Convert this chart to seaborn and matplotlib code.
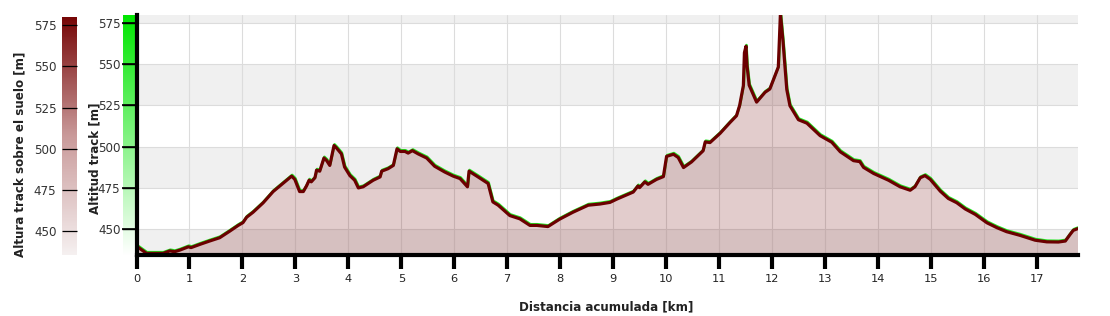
import numpy as np
import pandas as pd
import matplotlib
matplotlib.use("Agg")
import matplotlib.pyplot as plt
import matplotlib.transforms as mtransforms
from matplotlib.colors import LinearSegmentedColormap, Normalize
import seaborn as sns

# ---- data ----
distance_km = [0, 0.19, 0.5, 0.63, 0.72, 0.82, 0.98, 1.03, 1.2, 1.38,
               1.57, 1.76, 1.92, 2.01, 2.08, 2.2, 2.39, 2.58, 2.77, 2.93,
               2.99, 3.08, 3.15, 3.21, 3.26, 3.3, 3.37, 3.40, 3.46, 3.54,
               3.59, 3.65, 3.73, 3.78, 3.87, 3.93, 4.03, 4.12, 4.19, 4.28,
               4.47, 4.6, 4.63, 4.75, 4.85, 4.92, 4.98, 5.07, 5.13, 5.21,
               5.32, 5.48, 5.63, 5.82, 5.98, 6.11, 6.25, 6.28, 6.45, 6.64,
               6.73, 6.83, 6.89, 7.05, 7.24, 7.43, 7.56, 7.77, 7.99, 8.24,
               8.53, 8.75, 8.94, 9.07, 9.38, 9.47, 9.5, 9.6, 9.66, 9.82,
               9.95, 10.01, 10.14, 10.23, 10.33, 10.48, 10.70, 10.74, 10.83, 11.02,
               11.21, 11.33, 11.39, 11.46, 11.48, 11.51, 11.53, 11.57, 11.71, 11.87,
               11.96, 12.12, 12.16, 12.21, 12.28, 12.34, 12.5, 12.66, 12.91, 13.13,
               13.29, 13.54, 13.66, 13.73, 13.92, 14.2, 14.42, 14.61, 14.7, 14.8,
               14.89, 14.99, 15.18, 15.33, 15.49, 15.65, 15.84, 16.06, 16.25, 16.43,
               16.68, 16.97, 17.19, 17.41, 17.54, 17.63, 17.69, 17.77]
altitude_m = [439.4, 435, 435, 436.5, 436, 437, 439, 438.5, 440.5, 442.5,
              444.5, 448.5, 452, 453.7, 457, 460, 465.7, 472.6, 477.7, 482,
              480, 472.6, 472.6, 476, 479.5, 478.5, 481, 485.6, 485, 493,
              491.5, 488.5, 500.6, 499, 495.5, 487.5, 482.3, 479.5, 474.8, 475.5,
              479.5, 481.5, 485, 486.5, 488.5, 498.6, 497, 497, 496, 497.5,
              495.5, 493, 488, 484.5, 482, 480.5, 475.5, 485, 481.5, 477.5,
              466.3, 464.3, 462.6, 458, 456, 452, 452, 451.3, 455.8, 460,
              464.3, 465, 466, 468, 472.3, 476, 475, 478.5, 477, 480,
              481.7, 494, 495.3, 493.3, 487.2, 490.6, 497.4, 502.8, 502.4, 508,
              514.7, 518.7, 525, 537, 557, 561, 549, 537.3, 527, 533,
              535, 548.3, 581, 563.5, 534.7, 524.8, 516.3, 514.2, 506.6, 502.6,
              496.8, 491.4, 490.8, 487.3, 483.6, 479.5, 475.5, 473.4, 475.5, 481,
              482.3, 480, 472.8, 468.4, 465.8, 462, 458.7, 453.6, 450.6, 448.2,
              446, 443, 442, 441.9, 442.5, 446.5, 449, 450]
x_ticks = list(range(0, 18))
y_ticks = [450, 475, 500, 525, 550, 575]
y_range = [434, 580]
x_max = 17.77

df = pd.DataFrame({"km": distance_km, "alt": altitude_m})

# ---- figure ----
sns.set_theme(style="white")
plt.rcParams["font.family"] = ["DejaVu Sans"]
plt.rcParams["ytick.left"] = True
plt.rcParams["xtick.bottom"] = True
plt.rcParams["axes.axisbelow"] = False
W, H = 1110, 316
fig = plt.figure(figsize=(W / 100, H / 100), dpi=100)

def box(x0, y0, x1, y1):
    return [x0 / W, 1 - y1 / H, (x1 - x0) / W, (y1 - y0) / H]

ax = fig.add_axes(box(136.5, 15, 1077.5, 255), zorder=1)
ax.set_facecolor("white")

# green gradient strip left of the y axis
green = LinearSegmentedColormap.from_list("g", ["#ffffff", "#00e600"])
grad = np.linspace(0, 1, 256).reshape(-1, 1)
strip = ax.imshow(grad, cmap=green, aspect="auto", origin="lower",
                  extent=[-0.26, 0, y_range[0], y_range[1]], zorder=0.2)
strip.set_clip_on(False)
# tick marks across the strip
ax.hlines(y_ticks, -0.27, 0, colors="#000000", linewidths=1.2, zorder=5,
          clip_on=False)

# alternating background bands
edges = [y_range[0]] + y_ticks + [y_range[1]]
for i in range(len(edges) - 1):
    if i % 2 == 0:
        ax.axhspan(edges[i], edges[i + 1], color="#f0f0f0", lw=0, zorder=0)
for t in y_ticks:
    ax.axhline(t, color="#dcdcdc", lw=0.8, zorder=0.5)
for t in x_ticks:
    ax.axvline(t, color="#dcdcdc", lw=0.8, zorder=0.5)

ax.fill_between(df["km"], df["alt"], y_range[0], color="#6e0000", alpha=0.2,
                lw=0, zorder=1)
off = mtransforms.offset_copy(ax.transData, fig=fig, x=0.5, y=1.2, units="dots")
ax.plot(df["km"], df["alt"], color="#22e622", lw=1.8, transform=off, zorder=2)
sns.lineplot(data=df, x="km", y="alt", ax=ax, color="#6b0000", lw=2.3,
             zorder=3, sort=False, estimator=None)

ax.set_xlim(0, x_max)
ax.set_ylim(*y_range)
ax.set_xticks(x_ticks)
ax.set_yticks(y_ticks)
ax.set_xlabel("")
ax.set_ylabel("")
for s in ["top", "right"]:
    ax.spines[s].set_visible(False)
ax.spines["left"].set_color("black")
ax.spines["left"].set_linewidth(3)
ax.spines["bottom"].set_color("black")
ax.spines["bottom"].set_linewidth(3)
ax.spines["left"].set_zorder(6)
ax.spines["bottom"].set_zorder(6)
ax.tick_params(axis="x", direction="out", length=10, width=3, color="black",
               labelsize=8.2, labelcolor="#222222", pad=4, bottom=True)
ax.tick_params(axis="y", direction="out", length=10.5, width=1.0, color="black",
               labelsize=8.6, labelcolor="#333333", pad=1, left=True)

fig.text(95 / W, 1 - 158 / H, "Altitud track [m]", rotation=90, ha="center",
         va="center", fontsize=8.6, fontweight="bold", color="#222222")
fig.text(606 / W, 1 - 307 / H, "Distancia acumulada [km]", ha="center",
         va="center", fontsize=8.6, fontweight="bold", color="#222222")

# red colorbar
cax = fig.add_axes(box(62, 17, 77, 255))
reds = LinearSegmentedColormap.from_list("r", ["#f5f0f0", "#c99a9a", "#760606"])
sm = matplotlib.cm.ScalarMappable(norm=Normalize(435.5, 580), cmap=reds)
cb = fig.colorbar(sm, cax=cax, ticks=y_ticks)
cb.outline.set_visible(False)
cax.set_axisbelow(False)
cax.yaxis.set_ticks_position("left")
cax.yaxis.set_label_position("left")
cax.tick_params(axis="y", which="major", direction="in", length=11, width=0.9,
                color="black", labelsize=8.6, labelcolor="#333333", pad=4,
                left=True, right=False)
cax.minorticks_off()
fig.text(20 / W, 1 - 154 / H, "Altura track sobre el suelo [m]", rotation=90,
         ha="center", va="center", fontsize=8.6, fontweight="bold",
         color="#222222")

fig.savefig("out.png", dpi=100)
